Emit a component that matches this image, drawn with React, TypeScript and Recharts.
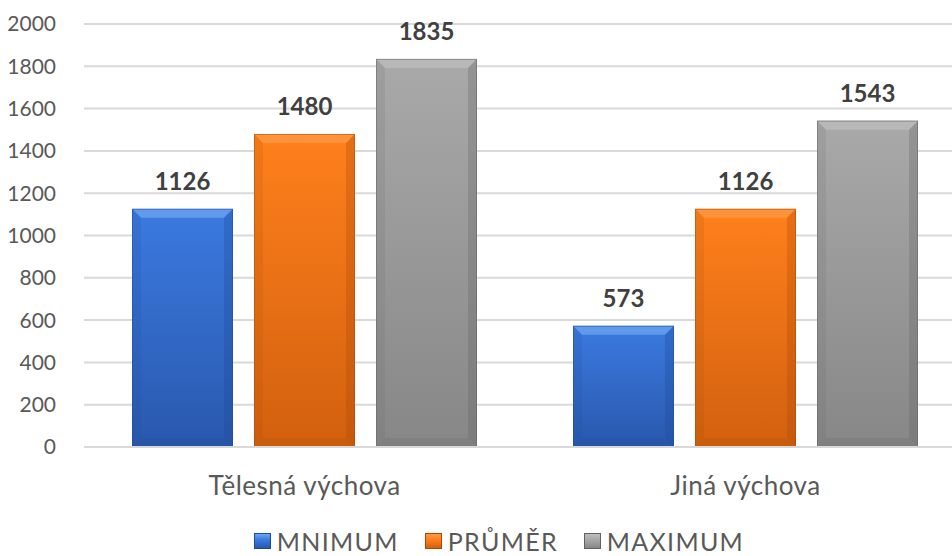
import React from "react";
import { BarChart, Bar, XAxis, YAxis, CartesianGrid, LabelList, Legend } from "recharts";

const categories = ["Tělesná výchova", "Jiná výchova"];
const minimum = [1126, 573];
const prumer = [1480, 1126];
const maximum = [1835, 1543];
const seriesNames = ["MNIMUM", "PRŮMĚR", "MAXIMUM"];
const yTicks = [0, 200, 400, 600, 800, 1000, 1200, 1400, 1600, 1800, 2000];

const data = categories.map((c, i) => ({
  name: c,
  min: minimum[i],
  avg: prumer[i],
  max: maximum[i],
}));

const FONT = "Lato, 'Open Sans', sans-serif";

const palettes = {
  blue: { top: "#3b7ae0", bottom: "#2958ad", bevel: "#6ea6f2", edge: "#1f4a94", bot: "#234f9c" },
  orange: { top: "#ff801c", bottom: "#d2600f", bevel: "#ff9a45", edge: "#a84907", bot: "#b65309" },
  gray: { top: "#a9a9a9", bottom: "#878787", bevel: "#bdbdbd", edge: "#626262", bot: "#6e6e6e" },
};

const makeShape = (key: keyof typeof palettes) => (props: any) => {
  const { x, y, width, height } = props;
  if (height <= 0) return null;
  const p = palettes[key];
  const b = Math.min(9, height / 3);
  return (
    <g>
      <rect x={x} y={y} width={width} height={height} fill={`url(#grad-${key})`} />
      <polygon
        points={`${x},${y} ${x + width},${y} ${x + width - b},${y + b} ${x + b},${y + b}`}
        fill={p.bevel}
        opacity={0.75}
      />
      <polygon
        points={`${x},${y} ${x + b},${y + b} ${x + b},${y + height - b} ${x},${y + height}`}
        fill={p.edge}
        opacity={0.15}
      />
      <polygon
        points={`${x + width},${y} ${x + width - b},${y + b} ${x + width - b},${y + height - b} ${x + width},${y + height}`}
        fill={p.edge}
        opacity={0.3}
      />
      <polygon
        points={`${x},${y + height} ${x + b},${y + height - b} ${x + width - b},${y + height - b} ${x + width},${y + height}`}
        fill={p.bot}
        opacity={0.3}
      />
      <rect x={x + 0.5} y={y + 0.5} width={width - 1} height={height - 1} fill="none" stroke={p.edge} strokeOpacity={0.5} strokeWidth={1} />
    </g>
  );
};

const legendKeys: (keyof typeof palettes)[] = ["blue", "orange", "gray"];

const LegendContent = () => (
  <div
    style={{
      width: 998,
      height: 28,
      display: "flex",
      justifyContent: "center",
      alignItems: "center",
      fontFamily: FONT,
      fontSize: 25,
      letterSpacing: 1.3,
      color: "#595959",
      lineHeight: "28px",
    }}
  >
    {seriesNames.map((n, i) => {
      const p = palettes[legendKeys[i]];
      return (
        <div key={n} style={{ display: "flex", alignItems: "center", marginRight: i < 2 ? 26 : 0 }}>
          <div
            style={{
              width: 17,
              height: 16,
              marginRight: 6,
              background: `linear-gradient(${p.bevel}, ${p.top} 40%, ${p.bottom})`,
              border: `1px solid ${p.edge}`,
              boxSizing: "border-box",
            }}
          />
          <span>{n}</span>
        </div>
      );
    })}
  </div>
);

export default function App() {
  return (
    <div
      style={{
        position: "absolute",
        top: 0,
        left: 0,
        width: 952,
        height: 556,
        overflow: "hidden",
        background: "#fff",
      }}
    >
      <BarChart
        width={980}
        height={556}
        data={data}
        margin={{ top: 24, right: 14, left: 0, bottom: 21 }}
        barCategoryGap={48}
        barGap={21}
      >
        <defs>
          {legendKeys.map((k) => (
            <linearGradient key={k} id={`grad-${k}`} x1="0" y1="0" x2="0" y2="1">
              <stop offset="0%" stopColor={palettes[k].top} />
              <stop offset="100%" stopColor={palettes[k].bottom} />
            </linearGradient>
          ))}
        </defs>
        <CartesianGrid vertical={false} stroke="#d9d9d9" strokeWidth={2} />
        <XAxis
          dataKey="name"
          height={60}
          axisLine={{ stroke: "#d9d9d9", strokeWidth: 2 }}
          tickLine={false}
          tickMargin={24}
          tick={{ fill: "#595959", fontSize: 26, fontFamily: FONT, letterSpacing: 0.5 }}
        />
        <YAxis
          width={84}
          domain={[0, 2000]}
          ticks={yTicks}
          interval={0}
          axisLine={false}
          tickLine={false}
          tickMargin={22}
          tick={{ fill: "#595959", fontSize: 21, fontFamily: FONT }}
        />
        <Legend
          content={<LegendContent />}
          wrapperStyle={{ position: "absolute", left: 0, top: 527, width: 998, height: 28 }}
        />
        <Bar dataKey="min" name={seriesNames[0]} fill="#2f6bd0" shape={makeShape("blue")} isAnimationActive={false}>
          <LabelList dataKey="min" position="top" offset={19} fill="#404040" fontSize={24} fontWeight="bold" fontFamily={FONT} />
        </Bar>
        <Bar dataKey="avg" name={seriesNames[1]} fill="#ed7d31" shape={makeShape("orange")} isAnimationActive={false}>
          <LabelList dataKey="avg" position="top" offset={19} fill="#404040" fontSize={24} fontWeight="bold" fontFamily={FONT} />
        </Bar>
        <Bar dataKey="max" name={seriesNames[2]} fill="#a5a5a5" shape={makeShape("gray")} isAnimationActive={false}>
          <LabelList dataKey="max" position="top" offset={19} fill="#404040" fontSize={24} fontWeight="bold" fontFamily={FONT} />
        </Bar>
      </BarChart>
    </div>
  );
}
